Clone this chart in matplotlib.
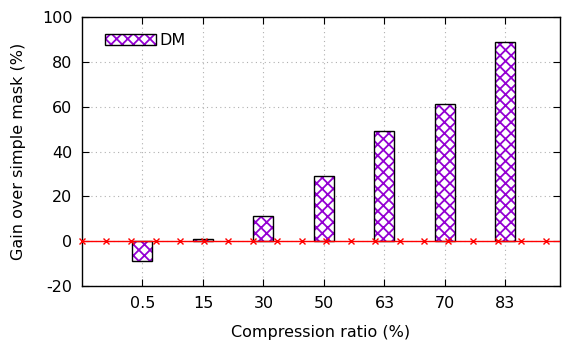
import matplotlib
matplotlib.use('Agg')
import matplotlib.pyplot as plt
from matplotlib.patches import Patch

# Dados
ratios = ['0.5', '15', '30', '50', '63', '70', '83']
gain_dm = [-8.8, 0.8, 11.4, 29.3, 49.2, 61.2, 88.7]
# pontos da linha de referencia (y = 0)
ref_x = [-1.0, -0.595, -0.193, 0.22, 0.617, 1.025, 1.42, 1.82, 2.23, 2.64,
         3.04, 3.44, 3.85, 4.25, 4.65, 5.05, 5.46, 5.87, 6.26, 6.67]
ref_y = [0] * len(ref_x)

plt.rcParams['font.family'] = ['DejaVu Sans']
plt.rcParams['hatch.linewidth'] = 1.3
plt.rcParams['axes.unicode_minus'] = False

fs = 11.5
fig = plt.figure(figsize=(5.65, 3.49), dpi=100)
ax = fig.add_axes([0.1451, 0.1805, 0.8459, 0.7705])

xpos = list(range(len(ratios)))
ax.bar(xpos, gain_dm, width=0.33, color='white', edgecolor='#9400d3',
       hatch='xxx', linewidth=0, zorder=2)
ax.bar(xpos, gain_dm, width=0.33, fill=False, edgecolor='black',
       linewidth=1.0, zorder=3)

ax.axhline(0, color='red', linewidth=1.0, zorder=4)
ax.plot(ref_x, ref_y, linestyle='none', marker='x', color='red',
        markersize=4, markeredgewidth=1.0, zorder=5, clip_on=False)

ax.set_xlim(-1, 6.9)
ax.set_ylim(-20, 100)
ax.set_xticks(xpos)
ax.set_xticklabels(ratios)
ax.set_yticks([-20, 0, 20, 40, 60, 80, 100])
ax.tick_params(direction='in', top=True, right=True, labelsize=fs,
               length=5, width=0.8, pad=7)
ax.grid(True, linestyle=(0, (1, 3)), color='#b0b0b0', linewidth=0.8, zorder=0)
ax.set_axisbelow(True)
for s in ax.spines.values():
    s.set_linewidth(1.0)

ax.set_xlabel('Compression ratio (%)', fontsize=fs, labelpad=10)
ax.set_ylabel('Gain over simple mask (%)', fontsize=fs, labelpad=11)

h = Patch(facecolor='white', edgecolor='#9400d3', hatch='xxx', linewidth=0)
hb = Patch(fill=False, edgecolor='black', linewidth=1.0)
ax.legend([(h, hb)], ['DM'], loc='upper left', frameon=False, fontsize=fs,
          handlelength=3.2, handleheight=0.7, handletextpad=0.2,
          borderaxespad=0.6, bbox_to_anchor=(0.015, 1.0))

fig.savefig('out.png', dpi=100)
